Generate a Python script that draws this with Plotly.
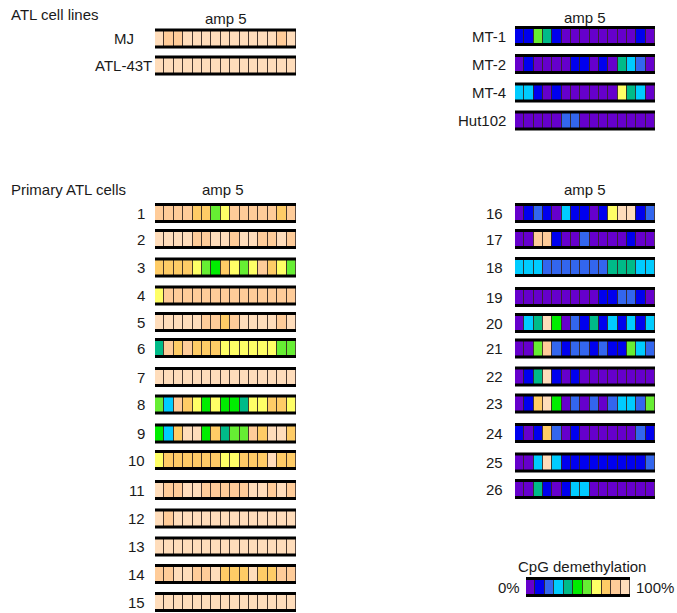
import plotly.graph_objects as go

# ---------------- data ----------------
# CpG demethylation level per CpG site, 0 (0%) .. 10 (100%), 11 discrete classes
level_colors = ["#6600CC", "#0000EE", "#3366EE", "#00CCFF", "#00BB88", "#00EE00",
                "#66EE33", "#FFFF66", "#FFCC66", "#FFCC99", "#FFDDBB"]
legend_levels = [0, 1, 2, 3, 4, 5, 6, 7, 8, 9, 10]

cl_left_names = ["MJ", "ATL-43T"]
cl_left_vals = [
    [10, 9, 9, 10, 10, 10, 10, 10, 10, 10, 10, 10, 10, 9, 10],
    [10, 10, 10, 10, 10, 10, 10, 10, 10, 10, 10, 10, 10, 10, 10],
]

cl_right_names = ["MT-1", "MT-2", "MT-4", "Hut102"]
cl_right_vals = [
    [1, 1, 6, 4, 1, 0, 0, 0, 0, 0, 0, 0, 0, 1, 0],
    [0, 1, 0, 0, 0, 0, 1, 1, 0, 1, 0, 4, 3, 2, 0],
    [3, 3, 1, 0, 1, 0, 0, 0, 0, 0, 0, 7, 4, 3, 0],
    [0, 0, 0, 0, 0, 2, 2, 0, 0, 0, 0, 0, 0, 0, 0],
]

prim_left_names = ["1", "2", "3", "4", "5", "6", "7", "8", "9", "10", "11", "12", "13", "14", "15"]
prim_left_vals = [
    [9, 9, 9, 9, 8, 8, 6, 7, 9, 9, 9, 9, 9, 8, 9],
    [10, 10, 10, 10, 9, 9, 10, 10, 9, 10, 10, 9, 9, 10, 9],
    [8, 8, 8, 8, 7, 6, 5, 8, 7, 6, 7, 9, 8, 7, 6],
    [7, 9, 9, 9, 9, 9, 9, 9, 9, 9, 9, 9, 9, 9, 9],
    [10, 10, 10, 10, 10, 9, 9, 8, 9, 10, 10, 10, 10, 9, 10],
    [4, 9, 8, 9, 8, 8, 8, 7, 7, 7, 7, 7, 7, 6, 6],
    [10, 10, 10, 10, 10, 10, 10, 10, 10, 10, 10, 10, 10, 10, 10],
    [6, 3, 9, 8, 7, 5, 7, 5, 5, 4, 7, 7, 8, 8, 7],
    [5, 3, 8, 10, 10, 5, 8, 4, 6, 6, 9, 8, 10, 10, 8],
    [7, 8, 8, 8, 8, 8, 8, 7, 7, 8, 8, 8, 10, 8, 8],
    [10, 9, 9, 10, 10, 9, 9, 9, 9, 9, 10, 10, 9, 10, 9],
    [10, 9, 10, 10, 10, 10, 10, 10, 10, 10, 10, 10, 10, 10, 10],
    [10, 10, 10, 10, 10, 10, 10, 10, 10, 10, 10, 10, 10, 10, 10],
    [9, 9, 10, 10, 9, 9, 10, 8, 8, 8, 10, 8, 8, 9, 9],
    [10, 10, 10, 10, 10, 10, 10, 10, 10, 10, 10, 10, 10, 10, 10],
]

prim_right_names = ["16", "17", "18", "19", "20", "21", "22", "23", "24", "25", "26"]
prim_right_vals = [
    [0, 1, 2, 1, 0, 3, 1, 1, 0, 1, 7, 10, 10, 1, 2],
    [0, 0, 9, 9, 1, 0, 0, 2, 0, 0, 0, 0, 1, 0, 0],
    [3, 3, 3, 2, 2, 2, 2, 2, 2, 2, 4, 4, 4, 3, 3],
    [0, 0, 0, 0, 0, 0, 0, 0, 0, 1, 1, 2, 2, 1, 0],
    [0, 3, 4, 10, 5, 0, 2, 1, 4, 1, 3, 1, 3, 1, 3],
    [0, 0, 6, 9, 2, 1, 2, 2, 1, 2, 1, 1, 6, 3, 2],
    [0, 1, 4, 10, 1, 0, 1, 0, 0, 0, 0, 0, 0, 0, 0],
    [0, 1, 8, 10, 5, 0, 2, 0, 2, 0, 2, 3, 3, 2, 6],
    [1, 0, 1, 8, 2, 0, 1, 0, 0, 0, 0, 0, 0, 2, 1],
    [0, 0, 3, 10, 3, 1, 1, 1, 1, 1, 1, 1, 1, 1, 2],
    [0, 0, 4, 1, 0, 1, 3, 3, 0, 0, 0, 0, 0, 0, 0],
]

# ---------------- layout constants (pixels) ----------------
W, H = 677, 613
cl_left_y = [38.5, 65.5]
cl_right_y = [36, 64, 92.5, 120.5]
prim_left_y = [213, 239, 267.5, 295.5, 322, 348, 377, 404.5, 433.5, 460, 490, 518.5, 546.5, 574, 602]
prim_right_y = [213, 239, 267, 297, 323, 348.5, 376.5, 403.5, 433, 462.5, 489]
legend_y = 587
BAR_H = 17
FONT = "Liberation Sans, Arial, sans-serif"
FS = 15

fig = go.Figure()
shapes = []


def add_rows(vals, ys, xaxis):
    ycoords, bases, cols = [], [], []
    for row, yc in zip(vals, ys):
        for i, v in enumerate(row):
            ycoords.append(yc)
            bases.append(i)
            cols.append(level_colors[v])
        n = len(row)
        for yy in (yc - BAR_H / 2, yc + BAR_H / 2):
            shapes.append(dict(type="line", xref=xaxis, yref="y", x0=0, x1=n, y0=yy, y1=yy,
                               line=dict(color="black", width=3)))
    fig.add_trace(go.Bar(orientation="h", y=ycoords, x=[1] * len(ycoords), base=bases,
                         width=BAR_H, marker=dict(color=cols, line=dict(color="rgba(50,35,30,0.8)", width=1)),
                         xaxis=xaxis, yaxis="y", hoverinfo="skip", showlegend=False))


add_rows(cl_left_vals, cl_left_y, "x")
add_rows(prim_left_vals, prim_left_y, "x")
add_rows(cl_right_vals, cl_right_y, "x2")
add_rows(prim_right_vals, prim_right_y, "x2")
add_rows([legend_levels], [legend_y], "x3")

ann = []


def label(text, x, y, anchor="right"):
    ann.append(dict(text=text, x=x / W, y=y, xref="paper", yref="y", xanchor=anchor,
                    yanchor="middle", showarrow=False, font=dict(family=FONT, size=FS, color="#1a1a1a")))


label("ATL cell lines", 9, 14, "left")
label("amp 5", 226, 18, "center")
label("amp 5", 585, 17, "center")
label("Primary ATL cells", 9, 189, "left")
label("amp 5", 223, 189, "center")
label("amp 5", 585, 189, "center")
label("MJ", 136, cl_left_y[0])
label("ATL-43T", 154, cl_left_y[1])
for nm, yc in zip(cl_right_names, cl_right_y):
    label(nm, 508, yc)
for nm, yc in zip(prim_left_names, prim_left_y):
    label(nm, 147, yc)
for nm, yc in zip(prim_right_names, prim_right_y):
    label(nm, 505, yc)
label("CpG demethylation", 582, 566, "center")
label("0%", 509, legend_y, "center")
label("100%", 655, legend_y, "center")

ax = dict(visible=False, fixedrange=True)
fig.update_layout(
    width=W, height=H, margin=dict(l=0, r=0, t=0, b=0),
    paper_bgcolor="white", plot_bgcolor="rgba(0,0,0,0)", barmode="overlay", bargap=0,
    xaxis=dict(domain=[155 / W, 296 / W], range=[0, 15], anchor="y", **ax),
    xaxis2=dict(domain=[515 / W, 655 / W], range=[0, 15], anchor="y", **ax),
    xaxis3=dict(domain=[526 / W, 630 / W], range=[0, 11], anchor="y", **ax),
    yaxis=dict(domain=[0, 1], range=[H, 0], **ax),
    shapes=shapes, annotations=ann,
)

fig.write_html("out.html", config={"displayModeBar": False},
               post_script="document.body.style.margin='0';")
